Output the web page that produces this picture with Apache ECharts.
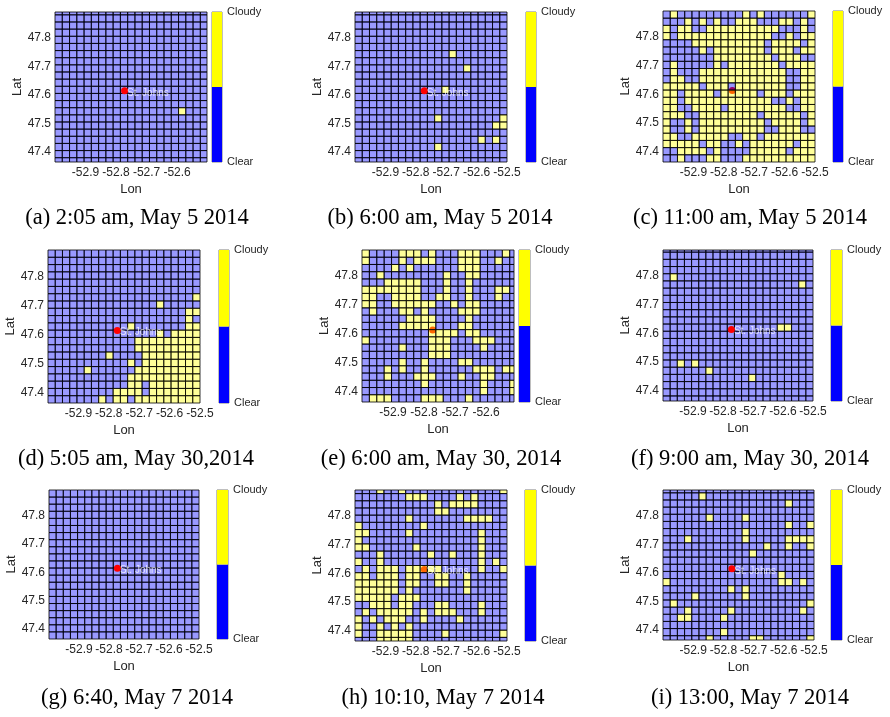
<!DOCTYPE html>
<html>
<head>
<meta charset="utf-8">
<script src="https://cdn.jsdelivr.net/npm/echarts@6/dist/echarts.min.js"></script>
<style>html,body{margin:0;padding:0;background:#fff}#c{width:890px;height:717px}</style>
</head>
<body>
<div id="c"></div>
<script>
// ---------- data ----------
const lonMin = -53.0, lonMax = -52.5, lonCells = 21, lonStep = 0.5 / 21;
const latMin = 47.365, latMax = 47.89, latStep = 0.025;
const station = { name: 'St. Johns', lon: -52.772, lat: 47.614 };
const colorbarLabels = ['Clear', 'Cloudy'];
const colorbarSegments = [1, 1];
const captions = [
  '(a) 2:05 am, May 5 2014', '(b) 6:00 am, May 5 2014', '(c) 11:00 am, May 5 2014',
  '(d) 5:05 am, May 30,2014', '(e) 6:00 am, May 30, 2014', '(f) 9:00 am, May 30, 2014',
  '(g) 6:40, May 7 2014', '(h) 10:10, May 7 2014', '(i) 13:00, May 7 2014'
];
// row offset of the pixel grid (in rows) for each panel
const rowShift = [0.4, 0.4, 0, 0, 0, 0.3, 0, 0.5, 0.4];
const lonAxisMax = [-52.502, -52.5, -52.5, -52.5, -52.51, -52.5, -52.5, -52.5, -52.5];
const dotUnder = [false, false, true, false, true, false, false, true, false];
const labelUnder = [false, false, true, false, true, false, false, false, false];

const B = '.....................';
// '#' = cloudy, '.' = clear ; 22 bands from north to south, 21 columns west to east
const cloudA = [B,B,B,B,B,B,B,B,B,B,B,B,B,B,
  '.................#...', B,B,B,B,B,B,B];
const cloudB = [B,B,B,B,B,B,
  '.............#.......', B,
  '...............#.....', B,B,
  '............#........', B,B,B,
  '...........#........#',
  '...................##', B,
  '.................#.#.',
  '...........#.........', B,B];
const cloudC = [B,
  '.#.........#.#......#',
  '...#.#.#..###...##.#.',
  '#.##..##########...#.',
  '#.#############..#.##',
  '....##########.####.#',
  '.....#.#######.###.##',
  '.......########.###..',
  '.#.....#.#######.####',
  '.#...############..##',
  '.##..############..##',
  '#####.###.#######..##',
  '##.####.#####.###.###',
  '##.############..#.##',
  '##..####.########..##',
  '###..########.#####.#',
  '#..#.#########.####.#',
  '#..#.#########..###..',
  '##..#####..##.#######',
  '#####.##..#.######.##',
  '..####.#....#####.###',
  '..#...##...##########'];
const cloudD = [B,B,B,B,B,B,B,
  '....................#',
  '...............#.....',
  '...................##',
  '...................#.',
  '...........#.......##',
  '...............#.####',
  '............#########',
  '............#########',
  '........#....########',
  '...........#.########',
  '.....#......#########',
  '...........##########',
  '...........##.#######',
  '.........####.#######',
  '.......#.##.#########'];
const cloudE = [B,
  '#....###.#...###...#.',
  '#....#.###...###..#..',
  '....#.#......###.....',
  '..#........#..##.....',
  '...#####...#..#......',
  '########...#..#...##.',
  '##..####..##..#...#..',
  '##..######..#.##.....',
  '.#...##.#....###.....',
  '......####....#......',
  '.....#####...##......',
  '.........####.##.....',
  '#........###...###...',
  '.....#...###....#....',
  '.........###.........',
  '.....#..#....##......',
  '...#.#..#......###.##',
  '...#...###...#..##...',
  '........#.......#...#',
  '................#...#',
  '.###....###...#......'];
const cloudF = [B,B,B,B,
  '.#...................',
  '...................#.', B,B,B,B,B,
  '................##...', B,B,B,B,
  '..#.#................',
  '......#..............',
  '............#........', B,B,B];
const cloudG = [B,B,B,B,B,B,B,B,B,B,B,B,B,B,B,B,B,B,B,B,B,B];
const cloudH = [
  '...#..#.............#',
  '.......###....#.#....',
  '...........#.####....',
  '...........##........',
  '.......#.......####..',
  '#........#...........',
  '##.....#.........#...',
  '#................#...',
  '##......#........#...',
  '...#......#..#...#...',
  '#..#.............#.#.',
  '.#.###.#####.....#..#',
  '##.###.##..##..#.....',
  '######.##..##..#.....',
  '######.#.......#.....',
  '#####.###............',
  '..###.##...##....#...',
  '.#.#####.#.###...#...',
  '#.#.###..#....#......',
  '#..#.#.#.............',
  '#..#####....#.......#',
  '...#####.............'];
const cloudI = [B,
  '.....#...............',
  '.................#...', B,
  '......#....#.........',
  '.................#..#',
  '...........#.........',
  '...#.......#.....####',
  '..............#..#..#',
  '............#........', B,B,
  '................#....',
  '#...............##.#.',
  '.........#.#.........',
  '....#......#.........',
  '.#..................#',
  '...#.....#.........#.',
  '..##....#............', B,
  '........#............',
  '......#.....##......#'];
const panels = [cloudA, cloudB, cloudC, cloudD, cloudE, cloudF, cloudG, cloudH, cloudI];

// ---------- layout / style ----------
const plotBoxes = [[55,12,152,150],[355,12,152,150],[663,11,152,151],
                   [48,250,152,153],[362,250,152,152],[663,250,150,151],
                   [49,490,150,149],[355,490,152,151],[663,490,151,150]];
const barBoxes = [[212,12,10,150],[526,12,10,150],[833,11,10,151],
                  [219,250,10,153],[519,250,11,152],[831,250,11,151],
                  [217,490,11,149],[525,490,11,151],[831,490,11,150]];
const capPos = [[137,218],[440,218],[750,218],[136,459],[441,459],[750,459],[137,698],[443,698],[750,698]];
const CLEAR_FILL = 'rgba(0,0,255,0.4)';
const CLOUDY_FILL = 'rgba(255,255,0,0.4)';
const EDGE = 'rgba(0,0,0,0.8)';
const SANS = 'Liberation Sans, Arial, sans-serif';
const TXT = '#262626';

function renderCell(params, api) {
  const x0 = api.value(0), y0 = api.value(1), v = api.value(2);
  const p0 = api.coord([x0, y0]);
  const p1 = api.coord([x0 + lonStep, y0 - latStep]);
  const cs = params.coordSys;
  const l = Math.max(p0[0], cs.x), r = Math.min(p1[0], cs.x + cs.width);
  const t = Math.max(p0[1], cs.y), b = Math.min(p1[1], cs.y + cs.height);
  if (r - l <= 0.05 || b - t <= 0.05) return null;
  return { type: 'rect', shape: { x: l, y: t, width: r - l, height: b - t },
           style: { fill: v ? CLOUDY_FILL : CLEAR_FILL, stroke: EDGE, lineWidth: 1 } };
}
function tickFmt(v) {
  return Math.abs(v * 10 - Math.round(v * 10)) < 1e-6 ? v.toFixed(1) : '';
}

const grid = [], xAxis = [], yAxis = [], series = [], graphic = [];
panels.forEach((rows, i) => {
  const pb = plotBoxes[i], bb = barBoxes[i];
  grid.push({ left: pb[0], top: pb[1], width: pb[2], height: pb[3], containLabel: false });
  xAxis.push({ type: 'value', gridIndex: 2 * i, min: lonMin, max: lonAxisMax[i], splitNumber: 5,
    axisLine: { show: false }, axisTick: { show: false }, splitLine: { show: false },
    axisLabel: { formatter: tickFmt, showMinLabel: false, showMaxLabel: lonAxisMax[i] === lonMax,
      fontSize: 12, color: TXT, margin: 5, fontFamily: SANS },
    name: 'Lon', nameLocation: 'middle', nameGap: 21,
    nameTextStyle: { fontSize: 13, color: TXT, fontFamily: SANS } });
  yAxis.push({ type: 'value', gridIndex: 2 * i, min: latMin, max: latMax, splitNumber: 5,
    axisLine: { show: false }, axisTick: { show: false }, splitLine: { show: false },
    axisLabel: { formatter: tickFmt, showMinLabel: false, showMaxLabel: false,
      fontSize: 12, color: TXT, margin: 4, fontFamily: SANS },
    name: 'Lat', nameLocation: 'middle', nameGap: 29, nameRotate: 90,
    nameTextStyle: { fontSize: 13, color: TXT, fontFamily: SANS } });
  // colorbar grid
  grid.push({ left: bb[0], top: bb[1], width: bb[2], height: bb[3], show: true,
    borderColor: '#7f7f7f', borderWidth: 1, backgroundColor: 'transparent' });
  xAxis.push({ type: 'category', gridIndex: 2 * i + 1, data: [''], show: false });
  yAxis.push({ type: 'value', gridIndex: 2 * i + 1, min: 0, max: 2, interval: 1, position: 'right',
    axisLine: { show: false }, axisTick: { show: false }, splitLine: { show: false },
    axisLabel: { formatter: v => (v === 0 ? colorbarLabels[0] : v === 2 ? colorbarLabels[1] : ''),
      fontSize: 11, color: TXT, margin: 5, fontFamily: SANS } });

  const data = [];
  rows.forEach((row, b) => {
    for (let c = 0; c < lonCells; c++) {
      data.push([lonMin + c * lonStep, latMax - (b - 1 + rowShift[i]) * latStep, row.charAt(c) === '#' ? 1 : 0]);
    }
  });
  series.push({ type: 'custom', xAxisIndex: 2 * i, yAxisIndex: 2 * i, renderItem: renderCell,
    data: data, encode: { x: 0, y: 1 }, z: 2, silent: true, progressive: 0 });
  series.push({ type: 'scatter', xAxisIndex: 2 * i, yAxisIndex: 2 * i, data: [[station.lon, station.lat]],
    symbolSize: 7, itemStyle: { color: '#ff0000', opacity: 1 }, z: dotUnder[i] ? 1 : 3, silent: true });
  series.push({ type: 'scatter', xAxisIndex: 2 * i, yAxisIndex: 2 * i, data: [[station.lon, station.lat]],
    symbolSize: 1, itemStyle: { color: 'rgba(0,0,0,0)' }, z: labelUnder[i] ? 1 : 4, silent: true,
    label: { show: true, formatter: station.name, position: 'right', distance: 2, offset: [0, 2],
      color: 'rgba(255,255,255,0.92)', fontSize: 10, fontFamily: SANS } });
  colorbarSegments.forEach((val, k) => {
    series.push({ type: 'bar', xAxisIndex: 2 * i + 1, yAxisIndex: 2 * i + 1, stack: 'cb' + i,
      data: [val], barWidth: '100%', itemStyle: { color: k === 0 ? '#0000ff' : '#ffff00' }, silent: true });
  });
  graphic.push({ type: 'text', x: capPos[i][0], y: capPos[i][1],
    style: { text: captions[i], fill: '#000', font: '22.5px "Liberation Serif", "Times New Roman", serif',
      textAlign: 'center', textVerticalAlign: 'middle' } });
});

const chart = echarts.init(document.getElementById('c'), null, { renderer: 'canvas', width: 890, height: 717 });
chart.setOption({ animation: false, backgroundColor: '#fff', grid, xAxis, yAxis, series, graphic });
</script>
</body>
</html>
